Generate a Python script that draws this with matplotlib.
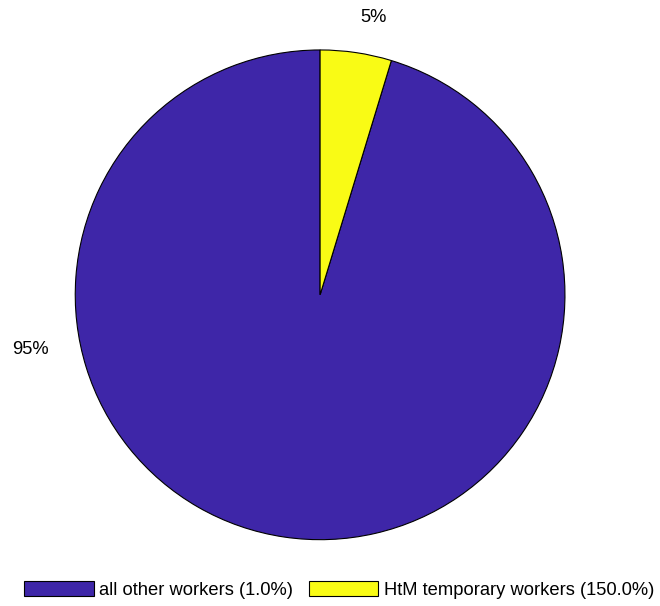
import numpy as np
import matplotlib
matplotlib.use('Agg')
import matplotlib.pyplot as plt

plt.rcParams['font.family'] = ['Liberation Sans', 'DejaVu Sans']

labels = ['all other workers (1.0%)', 'HtM temporary workers (150.0%)']
shares = [95.3, 4.7]
colors = ['#3E26A8', '#F9FB15']

fig = plt.figure(figsize=(6.6, 6.06), dpi=100)
ax = fig.add_axes([0.114, 0.109, 0.742, 0.809])

wedges, _ = ax.pie(shares, colors=colors, startangle=90, counterclock=True,
                   radius=1, wedgeprops={'edgecolor': 'black', 'linewidth': 0.8})
ax.set_xlim(-1, 1)
ax.set_ylim(-1, 1)
ax.set_aspect('equal')
ax.axis('off')

# label placement (angle in degrees, distance from centre)
label_pos = [(190.7, 1.205), (79.2, 1.155)]
for s, (ang, r) in zip(shares, label_pos):
    a = np.deg2rad(ang)
    ax.text(r * np.cos(a), r * np.sin(a), f'{s:.0f}%', ha='center', va='center',
            fontsize=13.2, clip_on=False)

fig.legend(wedges, labels, loc='center', bbox_to_anchor=(0.514, 0.027),
           ncol=2, frameon=False, fontsize=13.2, handlelength=3.77,
           handleheight=0.93, handletextpad=0.3, columnspacing=0.87)

fig.savefig('out.png', dpi=100)
